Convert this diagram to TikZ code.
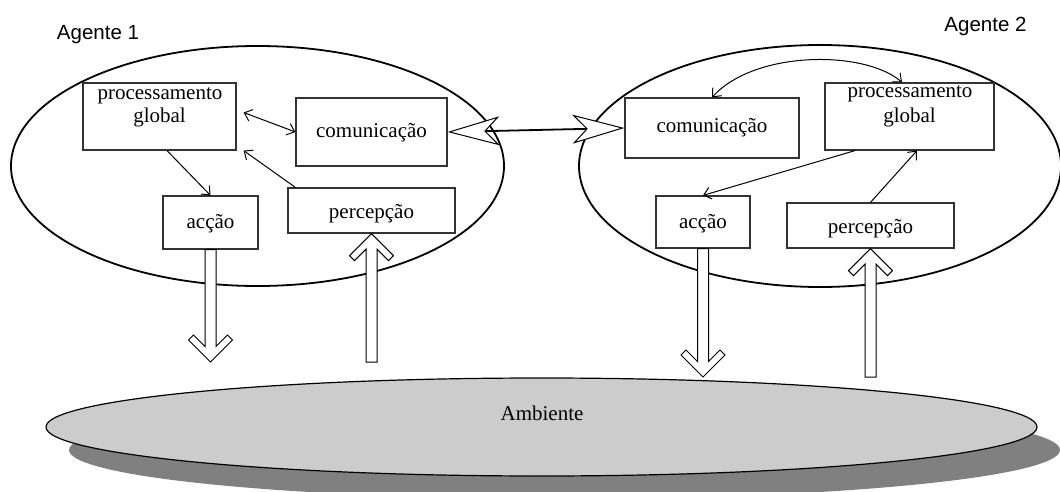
\documentclass[tikz,border=0pt]{standalone}
\usepackage{fontspec}
\setmainfont{Liberation Serif}
\newfontfamily\agentfont{Liberation Sans}
\usetikzlibrary{arrows.meta,calc}

% vertical block arrows: #1 start point, #2 tip point
\newcommand\blockdown[2]{%
  \draw[blockarrow] let \p1=(#1), \p2=(#2) in
    ({\x1-5.5pt},\y1) -- ({\x1-5.5pt},{\y2+15.5pt}) -- ({\x1-17pt},{\y2+27pt})
    -- ({\x1-22pt},{\y2+22pt}) -- (\x1,\y2) -- ({\x1+22pt},{\y2+22pt})
    -- ({\x1+17pt},{\y2+27pt}) -- ({\x1+5.5pt},{\y2+15.5pt}) -- ({\x1+5.5pt},\y1) -- cycle;}
\newcommand\blockup[2]{%
  \draw[blockarrow] let \p1=(#1), \p2=(#2) in
    ({\x2-5.5pt},\y1) -- ({\x2-5.5pt},{\y2-15.5pt}) -- ({\x2-17pt},{\y2-27pt})
    -- ({\x2-22pt},{\y2-22pt}) -- (\x2,\y2) -- ({\x2+22pt},{\y2-22pt})
    -- ({\x2+17pt},{\y2-27pt}) -- ({\x2+5.5pt},{\y2-15.5pt}) -- ({\x2+5.5pt},\y1) -- cycle;}

\begin{document}
\begin{tikzpicture}[x=1pt,y=-1pt,
  box/.style={draw=black!80,line width=1.2pt,fill=white,rectangle,inner sep=0pt},
  txt/.style={anchor=base,inner sep=0pt,font=\fontsize{21pt}{24pt}\selectfont},
  agentlabel/.style={anchor=base,inner sep=0pt,font=\agentfont\fontsize{20.5pt}{24pt}\selectfont},
  agentshape/.style={draw=black,line width=1.8pt},
  blockarrow/.style={draw=black,fill=white,line width=1pt,line join=miter},
  thinarrow/.style={draw=black,line width=1pt,{Straight Barb[length=7pt,width=12pt]}-{Straight Barb[length=7pt,width=12pt]}},
  onearrow/.style={draw=black,line width=1pt,-{Straight Barb[length=7pt,width=12pt]}},
  commarrow/.style={draw=black,line width=1.8pt,
    {Stealth[length=52pt,width=29pt,inset=14pt,fill=white,line width=1pt]}-{Stealth[length=52pt,width=29pt,inset=14pt,fill=white,line width=1pt]}}
]
\useasboundingbox (0,0) rectangle (1060,492);
\clip (0,0) rectangle (1060,492);

% environment with its shadow
\fill[black!50] (564.5,450) ellipse [x radius=495.5pt, y radius=49pt];
\draw[fill=black!20,line width=1.2pt] (541.5,427) ellipse [x radius=495.5pt, y radius=49pt];
\node[txt] (amb) at (542,420) {Ambiente};

% agent outlines
\draw[agentshape] (257.5,166) ellipse [x radius=246.5pt, y radius=120pt];
\draw[agentshape] (820,166) ellipse [x radius=241pt, y radius=121pt];
\node[agentlabel] (lab1) at (98,40) {Agente 1};
\node[agentlabel] (lab2) at (985.5,32) {Agente 2};

% agent 1 boxes
\node[box,minimum width=153pt,minimum height=67pt] (p1) at (159.5,116.5) {};
\node[box,minimum width=151pt,minimum height=68pt] (c1) at (371.5,132) {};
\node[box,minimum width=95pt,minimum height=53pt] (a1) at (210.5,222.5) {};
\node[box,minimum width=167pt,minimum height=45pt] (r1) at (371.5,210.5) {};
\node[txt] (p1t) at (160,100) {processamento};
\node[txt] (p1g) at (159.5,123) {global};
\node[txt] (c1t) at (371.5,138) {comunicação};
\node[txt] (a1t) at (210.5,228) {acção};
\node[txt] (r1t) at (371.5,218) {percepção};

% agent 2 boxes
\node[box,minimum width=174pt,minimum height=60pt] (c2) at (712,128) {};
\node[box,minimum width=169pt,minimum height=67pt] (p2) at (909.5,116.5) {};
\node[box,minimum width=94pt,minimum height=52pt] (a2) at (703,222) {};
\node[box,minimum width=167pt,minimum height=45pt] (r2) at (870.5,225.5) {};
\node[txt] (c2t) at (712,133) {comunicação};
\node[txt] (p2t) at (910,98) {processamento};
\node[txt] (p2g) at (909.5,123) {global};
\node[txt] (a2t) at (703,228) {acção};
\node[txt] (r2t) at (870.5,233) {percepção};

% free ends of the block arrows
\coordinate (a1end) at (210.5,362);
\coordinate (r1start) at (371.5,362);
\coordinate (a2end) at (703,377);
\coordinate (r2start) at (870.5,377);

% actions and perceptions
\blockdown{a1.south}{a1end}
\blockup{r1start}{r1.south}
\blockdown{a2.south}{a2end}
\blockup{r2start}{r2.south}

% internal flows, agent 1
\draw[thinarrow] ($(p1.east)+(7,-4)$) -- (c1.west);
\draw[onearrow] ($(p1.south)+(7.5,0)$) -- (a1.north);
\draw[onearrow] ($(r1.north west)+(8,0)$) -- ($(p1.south east)+(7,0)$);

% internal flows, agent 2
\draw[thinarrow] ($(p2.north)+(-7.5,0)$) .. controls (865,50) and (755,50) .. (c2.north);
\draw[onearrow] ($(p2.south)+(-54.5,0)$) -- (a2.north);
\draw[onearrow] (r2.north) -- ($(p2.south)+(7.5,0)$);

% communication between agents
\draw[commarrow] (c1.east) -- (c2.west);
\end{tikzpicture}
\end{document}
